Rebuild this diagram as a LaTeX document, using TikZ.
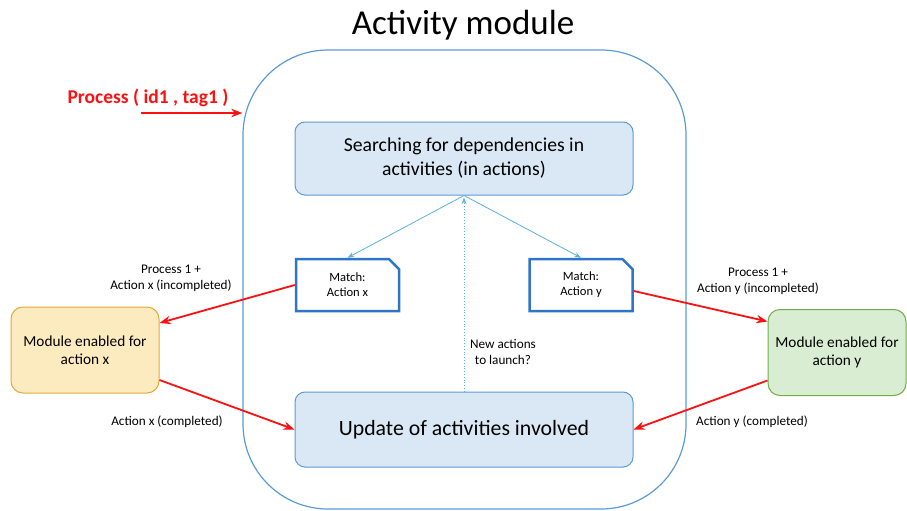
\documentclass[tikz,border=0pt]{standalone}
\usepackage{fontspec}
\setmainfont{Carlito}
\usetikzlibrary{arrows.meta,positioning,shapes.misc}

\definecolor{boxblue}{HTML}{DAE8F5}
\definecolor{lineblue}{HTML}{5B9BD5}
\definecolor{darkblue}{HTML}{2E74C8}
\definecolor{skyblue}{HTML}{5AB0E6}
\definecolor{orangefill}{HTML}{FDEBC0}
\definecolor{orangeline}{HTML}{E6A83A}
\definecolor{greenfill}{HTML}{D9EDD2}
\definecolor{greenline}{HTML}{70AD47}
\definecolor{arrowred}{HTML}{FF1010}

\begin{document}
\begin{tikzpicture}[x=1pt, y=-1pt, >=Stealth,
    stepbox/.style={draw=lineblue, line width=1pt, fill=boxblue, rounded corners=10pt,
      minimum width=338pt, align=center, inner sep=2pt},
    matchbox/.style={chamfered rectangle, chamfered rectangle corners=north east,
      chamfered rectangle xsep=7pt, draw=darkblue, line width=2.5pt, fill=white,
      minimum width=103pt, minimum height=52pt, align=center, inner sep=2pt,
      font=\fontsize{12.6}{15}\selectfont},
    modbox/.style={line width=1pt, rounded corners=12pt, minimum height=86pt,
      align=center, font=\fontsize{15.3}{18.5}\selectfont},
    redarrow/.style={->, draw=arrowred, line width=1.8pt},
    bluearrow/.style={->, draw=skyblue, line width=0.8pt},
    lbl/.style={align=center, font=\fontsize{13.2}{16}\selectfont}]
    \useasboundingbox (0,0) rectangle (907,511);

    \node (title) at (463,25) {\fontsize{35}{40}\selectfont Activity module};
    \node[draw=lineblue, line width=1.2pt, rounded corners=85pt,
      minimum width=443pt, minimum height=459pt] (frame) at (464.5,279.5) {};

    \node[stepbox, minimum height=73pt, font=\fontsize{19.7}{24}\selectfont] (search) at (464,158.5)
      {Searching for dependencies in\\activities (in actions)};
    \node[stepbox, minimum height=75pt, font=\fontsize{21.8}{26}\selectfont] (update) at (464,429.5)
      {Update of activities involved};

    \node[matchbox] (matchx) at (347.5,285) {Match:\\Action x};
    \node[matchbox] (matchy) at (581,285) {Match:\\Action y};

    \node[modbox, draw=orangeline, fill=orangefill, minimum width=148pt] (modx) at (85,350)
      {Module enabled for\\action x};
    \node[modbox, draw=greenline, fill=greenfill, minimum width=138pt] (mody) at (837,352.5)
      {Module enabled for\\action y};

    % incoming process
    \node[text=arrowred, font=\fontsize{19.5}{23}\selectfont\bfseries] (proc) at (148,98)
      {Process ( id1 , tag1 )};
    \coordinate (procstart) at (141,113);
    \draw[redarrow] (procstart) -- (procstart -| frame.west);

    % search results
    \draw[bluearrow] (search.south) -- (matchx.north);
    \draw[bluearrow] (search.south) -- (matchy.north);
    \draw[bluearrow, dotted] (update.north) -- ([yshift=-2pt]search.south);
    \node[lbl] (newact) at (503,352) {New actions\\to launch?};

    % action x
    \draw[redarrow] (matchx.west) -- ([yshift=27pt]modx.east);
    \node[lbl] (incx) at (171,278) {Process 1 +\\Action x (incompleted)};
    \draw[redarrow] ([yshift=-30pt]modx.east) -- (update.west);
    \node[lbl] (compx) at (167,422) {Action x (completed)};

    % action y
    \draw[redarrow] ([yshift=-6pt]matchy.east) -- ([yshift=31pt]mody.west);
    \node[lbl] (incy) at (758,281) {Process 1 +\\Action y (incompleted)};
    \draw[redarrow] ([yshift=-28pt]mody.west) -- (update.east);
    \node[lbl] (compy) at (752,422) {Action y (completed)};
\end{tikzpicture}
\end{document}
